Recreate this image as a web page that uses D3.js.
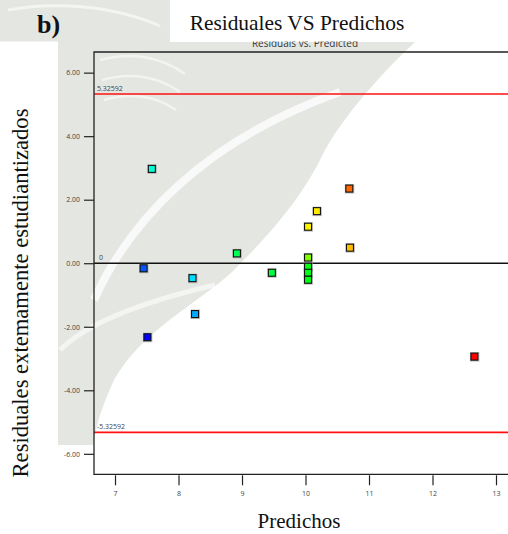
<!DOCTYPE html>
<html>
<head>
<meta charset="utf-8">
<script src="https://cdn.jsdelivr.net/npm/d3@7/dist/d3.min.js"></script>
<style>
  html, body { margin: 0; padding: 0; background: #fff; overflow: hidden; }
  svg { display: block; }
</style>
</head>
<body>
<svg id="chart" width="508" height="534"></svg>
<script>
// Externally studentized residuals against predicted values
const predicted = [7.58, 7.45, 8.22, 8.26, 7.51, 8.92, 9.47, 10.04, 10.04, 10.04, 10.04, 10.04, 10.18, 10.69, 10.70, 12.66];
const residuals = [2.97, -0.16, -0.47, -1.60, -2.33, 0.31, -0.30, 0.18, -0.11, -0.30, -0.52, 1.15, 1.64, 2.35, 0.49, -2.94];
// response value used to colour each run (blue = low, red = high)
const response  = [8.55, 7.30, 8.10, 7.80, 6.80, 9.30, 9.43, 10.55, 9.68, 9.68, 9.68, 11.38, 11.43, 12.20, 11.68, 12.80];

const xTicks = [7, 8, 9, 10, 11, 12, 13];
const yTicks = [-6, -4, -2, 0, 2, 4, 6];
const limitValue = 5.32592;
const limitLabels = ["5.32592", "0", "-5.32592"];

const title = "Residuales VS Predichos";
const subTitle = "Residuals vs. Predicted";
const panelTag = "b)";
const xTitle = "Predichos";
const yTitle = "Residuales extemamente estudiantizados";

const svg = d3.select("#chart");

// faint crest in the background
const crest = svg.append("g").attr("class", "crest");
crest.append("path")
  .attr("d", "M0,0 H170 V42 H415 C385,70 348,110 325,150 C302,200 264,240 232,272 C200,302 142,330 114,380 C104,402 97,420 93,445 H58 V42 H0 Z")
  .attr("fill", "#e3e6e1");
crest.append("path")
  .attr("d", "M94,300 C130,220 205,140 340,92")
  .attr("fill", "none").attr("stroke", "#fff").attr("stroke-width", 8).attr("opacity", 0.75);
crest.append("path")
  .attr("d", "M60,350 C90,320 150,300 215,285")
  .attr("fill", "none").attr("stroke", "#fff").attr("stroke-width", 5).attr("opacity", 0.6);
crest.append("path")
  .attr("d", "M8,10 C50,2 110,4 160,26")
  .attr("fill", "none").attr("stroke", "#fff").attr("stroke-width", 3).attr("opacity", 0.6);
crest.append("path")
  .attr("d", "M100,60 C130,52 160,56 185,74 M102,80 C130,72 158,76 180,92 M104,100 C130,92 156,96 176,110")
  .attr("fill", "none").attr("stroke", "#fff").attr("stroke-width", 2.5).attr("opacity", 0.55);

const plot = { left: 94, top: 52, bottom: 474.3, right: 512 };

const x = d3.scaleLinear().domain([6.669, 13.252]).range([plot.left, plot.right]);
const y = d3.scaleLinear().domain([-6.645, 6.65]).range([plot.bottom, plot.top]);

const hue = d3.scaleLinear().domain([6.8, 12.8]).range([240, 0]);
const colorOf = v => d3.hsl(hue(v), 1, 0.5).formatHex();

// subtitle (its top is hidden under the title banner)
svg.append("text")
  .attr("x", 305).attr("y", 46.5)
  .attr("text-anchor", "middle")
  .attr("font-family", "Open Sans, DejaVu Sans, sans-serif")
  .attr("font-size", 10).attr("fill", "#333")
  .text(subTitle);

// title banner and label margin
svg.append("rect").attr("x", 170).attr("y", 0).attr("width", 338).attr("height", 41.5).attr("fill", "#fff");
svg.append("rect").attr("x", 0).attr("y", 41.5).attr("width", 58).attr("height", 492.5).attr("fill", "#fff");

svg.append("text")
  .attr("x", 297).attr("y", 30)
  .attr("text-anchor", "middle")
  .attr("font-family", "Liberation Serif, Times New Roman, serif")
  .attr("font-size", 21.4).attr("fill", "#111")
  .text(title);

svg.append("text")
  .attr("x", 37).attr("y", 33)
  .attr("font-family", "Liberation Serif, Times New Roman, serif")
  .attr("font-weight", "bold")
  .attr("font-size", 26).attr("fill", "#111")
  .text(panelTag);

// clip for plot area
svg.append("defs").append("clipPath").attr("id", "plotClip")
  .append("rect").attr("x", plot.left).attr("y", plot.top)
  .attr("width", plot.right - plot.left).attr("height", plot.bottom - plot.top);

const inner = svg.append("g").attr("clip-path", "url(#plotClip)");

// limit lines
const limits = [limitValue, 0, -limitValue];
inner.selectAll("line.limit").data(limits).join("line")
  .attr("class", "limit")
  .attr("x1", plot.left).attr("x2", plot.right)
  .attr("y1", d => y(d)).attr("y2", d => y(d))
  .attr("stroke", d => d === 0 ? "#111" : "#ff1010")
  .attr("stroke-width", 1.6);

svg.selectAll("text.limitLabel").data(limits).join("text")
  .attr("class", "limitLabel")
  .attr("x", (d, i) => i === 1 ? plot.left + 5 : plot.left + 3)
  .attr("y", d => y(d) - 3)
  .attr("font-family", "Open Sans, DejaVu Sans, sans-serif")
  .attr("font-size", 7).attr("fill", "#444")
  .text((d, i) => limitLabels[i]);

// points
const pts = predicted.map((p, i) => ({ p, r: residuals[i], c: colorOf(response[i]) }));
const size = 7;
inner.selectAll("rect.shadow").data(pts).join("rect")
  .attr("class", "shadow")
  .attr("x", d => x(d.p) - size / 2 - 1).attr("y", d => y(d.r) - size / 2 - 1)
  .attr("width", size + 2.5).attr("height", size + 2.5)
  .attr("fill", "#999").attr("opacity", 0.6);
inner.selectAll("rect.pt").data(pts).join("rect")
  .attr("class", "pt")
  .attr("x", d => x(d.p) - size / 2).attr("y", d => y(d.r) - size / 2)
  .attr("width", size).attr("height", size)
  .attr("fill", d => d.c)
  .attr("stroke", "#111").attr("stroke-width", 1.1);

// frame
svg.append("path")
  .attr("d", `M${plot.right},${plot.top} H${plot.left} V${plot.bottom} H${plot.right}`)
  .attr("fill", "none").attr("stroke", "#222").attr("stroke-width", 1.3);

// axes
const yAxis = d3.axisLeft(y).tickValues(yTicks).tickSize(10).tickPadding(4)
  .tickFormat(d => d.toFixed(2));
const gy = svg.append("g").attr("transform", `translate(${plot.left},0)`).call(yAxis);
gy.select(".domain").remove();
gy.selectAll(".tick line").attr("stroke", "#222").attr("stroke-width", 1.2);
gy.selectAll(".tick text").attr("font-family", "Open Sans, DejaVu Sans, sans-serif")
  .attr("font-size", 7).attr("fill", "#444");

const xAxis = d3.axisBottom(x).tickValues(xTicks).tickSize(10).tickPadding(6)
  .tickFormat(d3.format("d"));
const gx = svg.append("g").attr("transform", `translate(0,${plot.bottom + 1})`).call(xAxis);
gx.select(".domain").remove();
gx.selectAll(".tick line").attr("stroke", "#222").attr("stroke-width", 1.2);
gx.selectAll(".tick text").attr("font-family", "Open Sans, DejaVu Sans, sans-serif")
  .attr("font-size", 7).attr("fill", "#444");

// axis titles
svg.append("text")
  .attr("x", 299).attr("y", 528)
  .attr("text-anchor", "middle")
  .attr("font-family", "Liberation Serif, Times New Roman, serif")
  .attr("font-size", 21).attr("fill", "#111")
  .text(xTitle);

svg.append("text")
  .attr("transform", "translate(28,293) rotate(-90)")
  .attr("text-anchor", "middle")
  .attr("font-family", "Liberation Serif, Times New Roman, serif")
  .attr("font-size", 22.6).attr("fill", "#111")
  .text(yTitle);
</script>
</body>
</html>
